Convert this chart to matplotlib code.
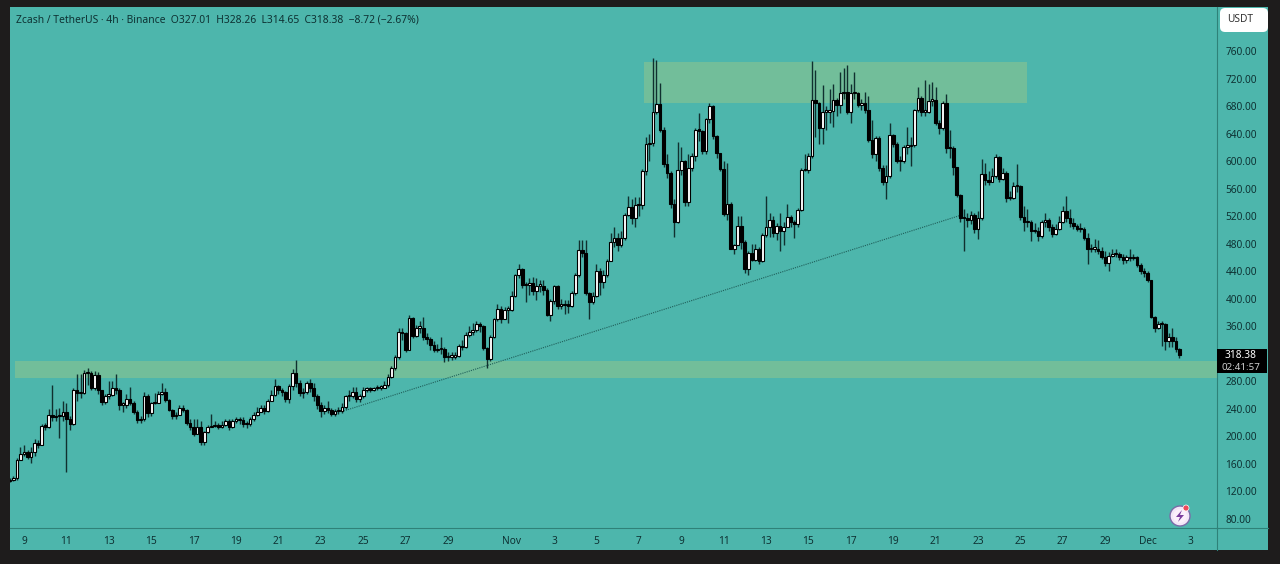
import matplotlib
matplotlib.use("Agg")
import matplotlib.pyplot as plt
import matplotlib.dates as mdates
from matplotlib.patches import Rectangle, FancyBboxPatch, Circle, Polygon
from matplotlib.transforms import Affine2D
import pandas as pd

closes = [137,139,166,175,178,170,178,191,188,215,214,231,228,229,229,236,226,218,267,263,
263,292,292,271,289,267,250,259,260,271,267,246,246,254,249,236,224,226,259,234,
248,249,262,265,253,239,229,231,241,238,219,213,204,213,192,206,213,215,216,213,
216,223,213,223,224,224,218,218,225,231,236,242,237,252,260,273,268,264,255,273,
292,278,263,265,277,271,259,246,237,241,239,233,237,237,243,258,258,264,254,258,
268,270,268,270,271,271,275,287,299,315,352,350,325,372,346,358,358,344,342,333,
325,327,327,315,316,316,317,331,330,347,351,355,363,360,328,312,345,370,385,371,
384,384,404,434,443,420,420,423,412,419,419,413,377,397,418,389,392,391,390,408,
434,471,466,408,395,404,441,425,435,455,482,488,478,488,522,533,517,536,536,585,
625,627,671,683,645,596,583,538,511,587,600,541,590,607,645,644,615,661,680,637,
612,588,523,538,473,478,506,483,443,466,457,473,455,492,505,514,496,506,498,505,
519,511,509,529,587,587,608,689,684,648,672,672,673,689,682,699,701,671,699,699,
682,685,675,631,610,633,590,570,579,638,625,600,600,621,622,624,674,692,672,672,
688,689,655,648,685,619,619,591,551,518,517,515,522,502,518,582,572,570,578,606,
574,583,546,546,564,564,519,511,511,498,498,491,511,515,504,494,502,512,527,517,
510,506,502,501,489,472,473,473,470,461,452,462,465,465,461,456,460,459,460,449,
441,437,428,374,357,363,363,338,344,338,327,318.38]
highs = [140,142,168,185,188,180,185,196,195,218,220,240,275,240,241,252,248,230,270,290,
290,296,300,295,295,293,268,262,280,280,290,270,250,262,272,252,238,230,264,262,
250,263,266,278,270,255,240,236,246,245,240,225,225,225,222,208,216,232,222,220,
222,226,226,226,228,228,228,222,228,236,243,246,245,255,268,284,275,270,266,276,
298,311,282,270,280,284,278,262,250,245,252,241,240,243,248,260,268,272,272,262,
272,272,272,272,274,275,280,290,302,318,358,358,352,376,374,362,368,374,350,345,
338,335,345,330,322,322,322,334,340,352,360,365,368,366,362,330,348,372,392,390,
388,390,412,436,450,445,425,430,432,430,428,428,415,400,420,420,400,398,398,412,
438,485,485,485,410,410,450,445,442,458,495,505,495,498,524,550,545,548,548,588,
635,640,750,747,714,650,610,585,545,628,620,601,610,612,648,670,645,662,684,682,
638,610,600,598,540,480,520,520,485,470,480,480,475,495,550,525,520,510,525,512,
538,522,515,532,590,610,612,745,733,686,711,680,705,712,692,730,735,740,712,730,
700,690,700,695,660,636,636,595,595,655,640,628,607,624,650,635,676,708,695,718,
712,715,708,660,687,698,645,622,592,552,530,525,528,525,528,603,598,585,590,610,
608,590,585,556,570,596,566,535,530,515,510,505,515,525,518,508,508,520,535,550,
530,518,508,510,505,495,480,487,485,475,470,468,472,473,468,465,464,472,465,462,
452,445,440,428,375,368,368,365,350,358,345,328.26]
lows = [134,135,137,165,172,167,162,172,183,187,210,212,222,222,197,222,148,210,216,252,
256,262,275,268,268,262,246,247,255,258,262,238,236,242,245,232,219,220,222,228,
230,247,248,260,250,237,226,225,236,235,216,210,200,203,188,188,205,213,214,211,
212,215,210,212,220,218,214,212,215,222,230,235,233,235,252,258,262,258,250,248,
268,272,258,256,262,265,252,240,228,233,234,230,230,232,234,240,252,256,250,250,
256,265,265,266,268,268,270,272,285,297,312,340,322,325,343,345,350,340,335,326,
322,322,320,308,310,311,313,316,326,328,345,348,352,352,325,300,310,343,368,365,
372,365,382,402,430,416,395,405,405,398,410,405,375,368,393,385,385,378,380,388,
406,432,460,405,370,392,402,405,415,432,455,475,470,475,485,520,508,505,520,530,
580,600,622,668,642,592,575,532,490,510,580,535,535,585,600,630,610,610,655,632,
605,585,520,515,472,465,478,473,437,435,455,455,450,453,490,490,490,485,470,478,
505,505,488,505,527,585,583,605,635,625,625,645,655,650,665,670,690,668,655,690,
678,675,670,628,605,600,586,565,545,575,620,597,585,598,610,593,620,672,665,665,
670,680,652,640,645,612,605,580,548,512,470,505,508,495,487,515,565,565,570,575,
570,572,540,543,545,555,515,498,505,484,495,484,488,505,498,490,492,500,510,512,
505,502,498,497,485,450,468,468,465,458,448,440,460,460,456,450,452,455,456,446,
436,432,425,372,352,356,332,325,330,330,322,314.65]

price_ticks = [80,120,160,200,240,280,360,400,440,480,520,560,600,640,680,720,760]
time_ticks = ["2025-10-09","2025-10-11","2025-10-13","2025-10-15","2025-10-17","2025-10-19","2025-10-21",
              "2025-10-23","2025-10-25","2025-10-27","2025-10-29","2025-11-01","2025-11-03","2025-11-05",
              "2025-11-07","2025-11-09","2025-11-11","2025-11-13","2025-11-15","2025-11-17","2025-11-19",
              "2025-11-21","2025-11-23","2025-11-25","2025-11-27","2025-11-29","2025-12-01","2025-12-03"]
time_labels = ["9","11","13","15","17","19","21","23","25","27","29","Nov","3","5","7","9","11","13",
               "15","17","19","21","23","25","27","29","Dec","3"]
zone_upper = ("2025-11-07 05:30", "2025-11-25 07:30", 685, 744)
zone_lower = ("2025-10-08 14:00", "2025-12-05 00:00", 285, 310)
trend_t = ["2025-10-24 02:00", "2025-11-22 06:00"]
trend_p = [237, 522]
title = "Zcash / TetherUS · 4h · Binance  O327.01  H328.26  L314.65  C318.38  −8.72 (−2.67%)"

W, H = 1280, 564
BG = "#4DB6AC"
DARK = "#1E1C1C"
LINE = "#2F8178"
TXT = "#0E3233"
plt.rcParams["font.family"] = ["Noto Sans", "DejaVu Sans"]

def fx(x): return x / W
def fy(y): return 1 - y / H

fig = plt.figure(figsize=(W / 100, H / 100), dpi=100, facecolor=DARK)
fig.patches.append(Rectangle((fx(10), fy(550)), fx(1258), 543 / H, transform=fig.transFigure,
                             facecolor=BG, edgecolor="none", zorder=-5))
ax = fig.add_axes([fx(10), fy(528), fx(1207), 521 / H], facecolor=BG)
ax.patch.set_alpha(0)

times = pd.date_range("2025-10-08 08:00", periods=len(closes), freq="4h")
x = mdates.date2num(times.to_pydatetime())
opens = [135] + closes[:-1]
opens[-1] = 327.01

ax.vlines(x, lows, highs, color="#10302F", linewidth=1.0, zorder=3)
for xi, o, c in zip(x, opens, closes):
    up = c >= o
    lo = min(o, c)
    h = max(abs(c - o), 2.0)
    ax.bar(xi, h, bottom=lo, width=0.125, color="white" if up else "black",
           edgecolor="black", linewidth=0.8, zorder=4)

n = mdates.date2num
for z in (zone_upper, zone_lower):
    t0, t1 = n(pd.Timestamp(z[0])), n(pd.Timestamp(z[1]))
    ax.add_patch(Rectangle((t0, z[2]), t1 - t0, z[3] - z[2], facecolor="#72BE9A",
                           edgecolor="none", zorder=2))
ax.plot([n(pd.Timestamp(t)) for t in trend_t], trend_p, color="#1F5F5A", lw=0.8,
        ls=(0, (1, 1)), zorder=2.5)

ax.set_ylim(66.9, 824)
ax.set_xlim(n(pd.Timestamp("2025-10-09")) - 14 / 21.2, n(pd.Timestamp("2025-10-09")) + 1193 / 21.2)
ax.yaxis.tick_right()
ax.set_yticks(price_ticks)
ax.set_yticklabels([f"{p:.2f}" for p in price_ticks], fontsize=7.3, color=TXT)
ax.tick_params(axis="y", length=0, pad=6)
ax.set_xticks([n(pd.Timestamp(t)) for t in time_ticks])
ax.set_xticklabels(time_labels, fontsize=7.3, color=TXT)
for lab, t in zip(ax.get_xticklabels(), time_labels):
    if t in ("Nov", "Dec"):
        lab.set_fontweight("bold")
ax.tick_params(axis="x", length=0, pad=6)
for s in ("top", "left"):
    ax.spines[s].set_visible(False)
for s in ("right", "bottom"):
    ax.spines[s].set_color(LINE)
    ax.spines[s].set_linewidth(0.8)
fig.add_artist(plt.Line2D([fx(1217), fx(1217)], [fy(528), fy(550)], color=LINE, lw=0.8))
fig.add_artist(plt.Line2D([fx(1217), fx(1268)], [fy(528), fy(528)], color=LINE, lw=0.8))

fig.text(fx(16), fy(19.5), title, fontsize=7.45, color=TXT, va="center", ha="left")

# currency button
fig.add_artist(FancyBboxPatch((fx(1220), fy(32)), fx(48), 24 / H, transform=fig.transFigure,
                              boxstyle="round,pad=0,rounding_size=0.004", facecolor="white",
                              edgecolor="none", mutation_aspect=2.2, zorder=6))
fig.text(fx(1240), fy(20), "USDT", fontsize=7.3, color="#333333", va="center", ha="center", zorder=7)

# last-price tag
fig.add_artist(Rectangle((fx(1217), fy(373)), fx(50), 24 / H, transform=fig.transFigure,
                         facecolor="black", edgecolor="none", zorder=6))
fig.text(fx(1240), fy(355), "318.38", fontsize=7.3, color="white", weight="bold", va="center", ha="center", zorder=7)
fig.text(fx(1241), fy(367), "02:41:57", fontsize=7.0, color="#D0D0D0", va="center", ha="center", zorder=7)

# badge
pix = Affine2D().scale(1 / W, 1 / H) + fig.transFigure
def P(xp, yp): return (xp, H - yp)
fig.add_artist(Circle(P(1180, 516), 10, transform=pix, facecolor="#F3E6F7", edgecolor="#7B6BA8", lw=1, zorder=6))
fig.add_artist(Circle(P(1180, 516), 7, transform=pix, facecolor="#FBEFFB", edgecolor="none", zorder=6))
fig.add_artist(Polygon([P(1182, 510), P(1176, 517), P(1180, 517), P(1178, 522), P(1184, 515), P(1180, 515)],
                       transform=pix, facecolor="#7A3E9D", edgecolor="none", zorder=7))
fig.add_artist(Circle(P(1186, 508), 3, transform=pix, facecolor="#EE4A5A", edgecolor="white", lw=0.5, zorder=8))

fig.savefig("out.png", dpi=100, facecolor=DARK)
